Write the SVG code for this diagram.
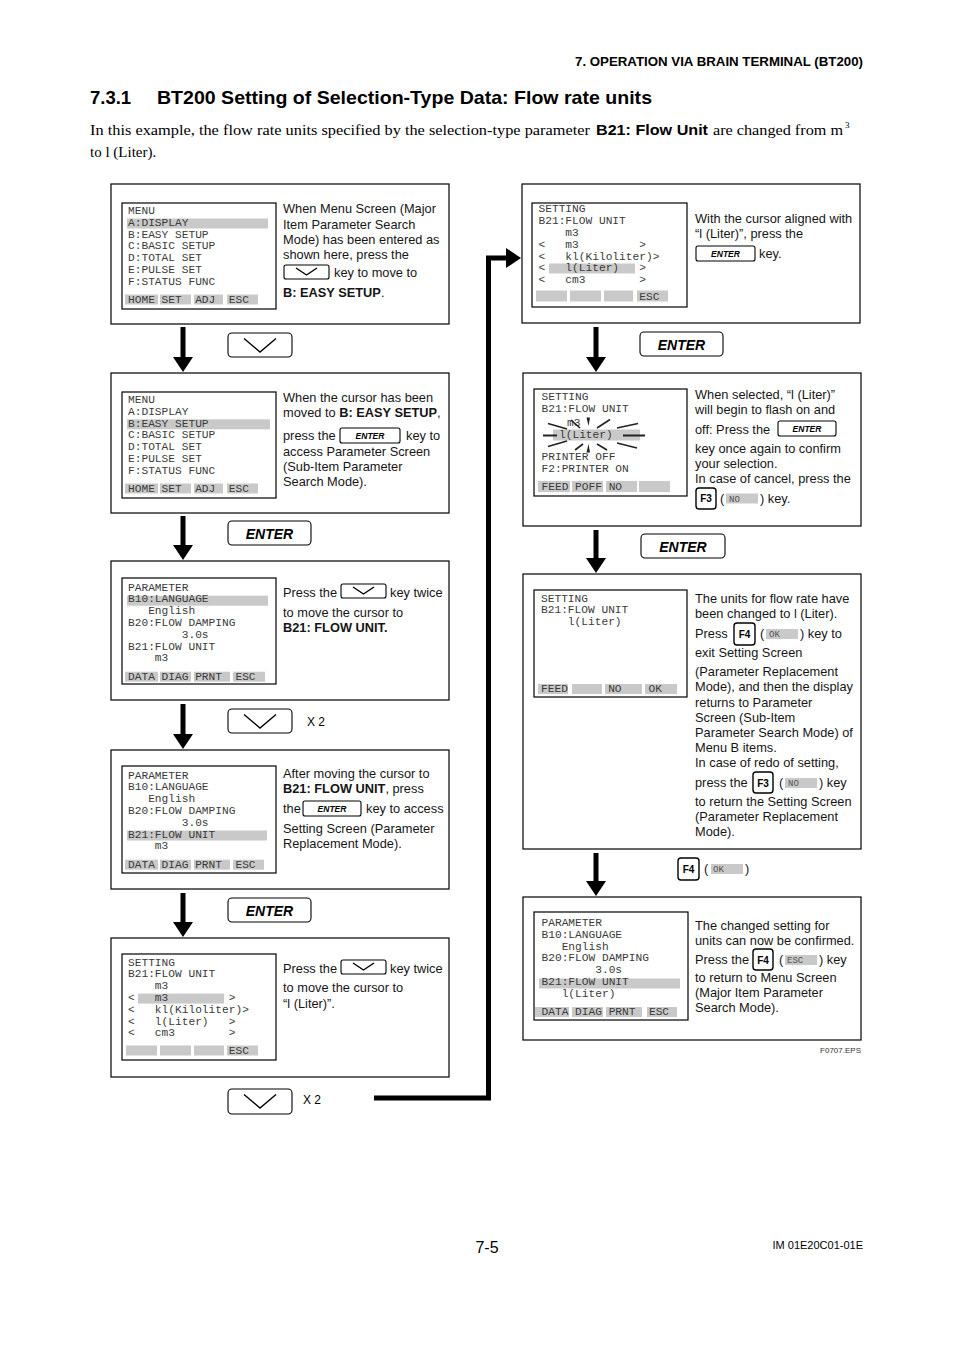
<svg xmlns="http://www.w3.org/2000/svg" width="954" height="1351" viewBox="0 0 954 1351">
<style>
.box{fill:none;stroke:#000;stroke-width:1.2}
.scr{fill:#fff;stroke:#000;stroke-width:1.2}
.hl{fill:#c9c9c9}
.mono{font-family:"Liberation Mono","DejaVu Sans Mono",monospace;font-size:11.2px;fill:#3a3a3a;white-space:pre}
.gk{font-family:"Liberation Mono",monospace;font-size:9px;fill:#555;white-space:pre}
.d{font-family:"Liberation Sans",Arial,sans-serif;font-size:12.8px;fill:#151515}
.b{font-weight:bold}
.key{fill:#fff;stroke:#000;stroke-width:1.1}
.chev{fill:none;stroke:#000;stroke-width:1.4}
.ent{font-family:"Liberation Sans",Arial,sans-serif;font-weight:bold;font-style:italic;fill:#000;text-anchor:middle}
.fk{fill:#fff;stroke:#000;stroke-width:1.4}
.fkt{font-family:"Liberation Sans",Arial,sans-serif;font-weight:bold;font-size:10px;text-anchor:middle;fill:#000}
.arr{fill:none;stroke:#000;stroke-width:5;marker-end:url(#ah)}
.ray{stroke:#222;stroke-width:1.6;fill:none}
</style>
<defs>
<marker id="ah" markerUnits="userSpaceOnUse" markerWidth="15" markerHeight="20" refX="3" refY="10" orient="auto">
<path d="M0,0 L15,10 L0,20 Z" fill="#000"/>
</marker>
</defs>
<rect width="954" height="1351" fill="#fff"/>

<!-- header -->
<text x="575" y="66" font-family="Liberation Sans, Arial, sans-serif" font-size="12" font-weight="bold" textLength="288" lengthAdjust="spacingAndGlyphs">7. OPERATION VIA BRAIN TERMINAL (BT200)</text>
<text x="90" y="104" font-family="Liberation Sans, Arial, sans-serif" font-size="18.5" font-weight="bold">7.3.1</text>
<text x="157" y="104" font-family="Liberation Sans, Arial, sans-serif" font-size="18.5" font-weight="bold" textLength="495" lengthAdjust="spacingAndGlyphs">BT200 Setting of Selection-Type Data: Flow rate units</text>
<text x="90" y="135" font-family="Liberation Serif, Times New Roman, serif" font-size="15" textLength="500" lengthAdjust="spacingAndGlyphs">In this example, the flow rate units specified by the selection-type parameter</text>
<text x="596" y="135" font-family="Liberation Sans, Arial, sans-serif" font-size="15" font-weight="bold" textLength="112" lengthAdjust="spacingAndGlyphs">B21: Flow Unit</text>
<text x="713" y="135" font-family="Liberation Serif, Times New Roman, serif" font-size="15" textLength="130" lengthAdjust="spacingAndGlyphs">are changed from m</text>
<text x="845" y="128" font-family="Liberation Serif, Times New Roman, serif" font-size="9">3</text>
<text x="90" y="157" font-family="Liberation Serif, Times New Roman, serif" font-size="15">to l (Liter).</text>

<!-- connectors -->
<g id="connectors">
<path class="arr" d="M183,327 V360"/>
<path class="arr" d="M183,516 V548"/>
<path class="arr" d="M183,704 V737"/>
<path class="arr" d="M183,893 V925"/>
<path class="arr" d="M596,327 V360"/>
<path class="arr" d="M596,530 V561"/>
<path class="arr" d="M596,853 V884"/>
<path class="arr" d="M374,1098 H488.5 V258 H509" stroke-linejoin="miter"/>
</g>

<!-- keys between boxes -->
<g id="key-down-1"><rect class="key" x="228" y="333" width="64" height="24" rx="4"/><polyline class="chev" points="244,338.5 260,352 276,338.5"/></g>
<g id="key-enter-1"><rect class="key" x="228" y="521" width="83" height="24" rx="4"/><text class="ent" x="269.5" y="538.5" font-size="14">ENTER</text></g>
<g id="key-down-2"><rect class="key" x="228" y="709" width="64" height="24" rx="4"/><polyline class="chev" points="244,714.5 260,728 276,714.5"/><text x="307" y="725.5" font-family="Liberation Sans, Arial, sans-serif" font-size="12">X 2</text></g>
<g id="key-enter-2"><rect class="key" x="228" y="898" width="83" height="24" rx="4"/><text class="ent" x="269.5" y="915.5" font-size="14">ENTER</text></g>
<g id="key-down-3"><rect class="key" x="228" y="1089" width="64" height="25" rx="4"/><polyline class="chev" points="244,1094.5 260,1108 276,1094.5"/><text x="303" y="1103.5" font-family="Liberation Sans, Arial, sans-serif" font-size="12">X 2</text></g>
<g id="key-enter-3"><rect class="key" x="640" y="332" width="83" height="24" rx="4"/><text class="ent" x="681.5" y="349.5" font-size="14">ENTER</text></g>
<g id="key-enter-4"><rect class="key" x="641" y="534" width="84" height="24" rx="4"/><text class="ent" x="683" y="551.5" font-size="14">ENTER</text></g>
<g id="key-f4-ok"><rect class="fk" x="678" y="858" width="21" height="22" rx="3"/><text class="fkt" x="688.5" y="873">F4</text><text class="d" x="704" y="873">(</text><rect class="hl" x="711" y="864" width="32" height="10"/><text class="gk" x="713" y="872">OK</text><text class="d" x="745" y="873">)</text></g>

<!-- Box 1 -->
<g id="n1">
<rect class="box" x="111" y="184" width="338" height="140"/>
<rect class="scr" x="122" y="203" width="154" height="106"/>
<rect class="hl" x="127" y="218.5" width="141" height="10"/>
<text class="mono" xml:space="preserve" x="128" y="214">MENU</text>
<text class="mono" xml:space="preserve" x="128" y="225.8">A:DISPLAY</text>
<text class="mono" xml:space="preserve" x="128" y="237.6">B:EASY SETUP</text>
<text class="mono" xml:space="preserve" x="128" y="249.4">C:BASIC SETUP</text>
<text class="mono" xml:space="preserve" x="128" y="261.2">D:TOTAL SET</text>
<text class="mono" xml:space="preserve" x="128" y="273">E:PULSE SET</text>
<text class="mono" xml:space="preserve" x="128" y="284.8">F:STATUS FUNC</text>
<rect class="hl" x="125" y="294.5" width="33" height="10"/><rect class="hl" x="160" y="294.5" width="31" height="10"/><rect class="hl" x="194" y="294.5" width="29" height="10"/><rect class="hl" x="227" y="294.5" width="31" height="10"/>
<text class="mono" xml:space="preserve" x="128" y="302.5">HOME SET  ADJ  ESC</text>
<text class="d" x="283" y="213">When Menu Screen (Major</text>
<text class="d" x="283" y="229">Item Parameter Search</text>
<text class="d" x="283" y="244">Mode) has been entered as</text>
<text class="d" x="283" y="259">shown here, press the</text>
<rect class="key" x="284" y="265" width="45" height="14" rx="2"/><polyline class="chev" points="296,268 306.5,275 317,268"/>
<text class="d" x="334" y="277">key to move to</text>
<text class="d" x="283" y="297"><tspan class="b">B: EASY SETUP</tspan>.</text>
</g>

<!-- Box 2 -->
<g id="n2">
<rect class="box" x="111" y="373" width="338" height="140"/>
<rect class="scr" x="122" y="392" width="154" height="106"/>
<rect class="hl" x="127" y="419.3" width="143" height="10"/>
<text class="mono" xml:space="preserve" x="128" y="403">MENU</text>
<text class="mono" xml:space="preserve" x="128" y="414.8">A:DISPLAY</text>
<text class="mono" xml:space="preserve" x="128" y="426.6">B:EASY SETUP</text>
<text class="mono" xml:space="preserve" x="128" y="438.4">C:BASIC SETUP</text>
<text class="mono" xml:space="preserve" x="128" y="450.2">D:TOTAL SET</text>
<text class="mono" xml:space="preserve" x="128" y="462">E:PULSE SET</text>
<text class="mono" xml:space="preserve" x="128" y="473.8">F:STATUS FUNC</text>
<rect class="hl" x="125" y="483.5" width="33" height="10"/><rect class="hl" x="160" y="483.5" width="31" height="10"/><rect class="hl" x="194" y="483.5" width="29" height="10"/><rect class="hl" x="227" y="483.5" width="31" height="10"/>
<text class="mono" xml:space="preserve" x="128" y="491.5">HOME SET  ADJ  ESC</text>
<text class="d" x="283" y="402">When the cursor has been</text>
<text class="d" x="283" y="417">moved to <tspan class="b">B: EASY SETUP</tspan>,</text>
<text class="d" x="283" y="440">press the</text>
<rect class="key" x="340" y="428" width="60" height="15" rx="2"/><text class="ent" x="370" y="438.5" font-size="8.5">ENTER</text>
<text class="d" x="406" y="440">key to</text>
<text class="d" x="283" y="456">access Parameter Screen</text>
<text class="d" x="283" y="470.5">(Sub-Item Parameter</text>
<text class="d" x="283" y="485.5">Search Mode).</text>
</g>

<!-- Box 3 -->
<g id="n3">
<rect class="box" x="111" y="561" width="338" height="139"/>
<rect class="scr" x="122" y="578" width="154" height="106"/>
<rect class="hl" x="127" y="595.7" width="141" height="10"/>
<text class="mono" xml:space="preserve" x="128" y="590.5">PARAMETER</text>
<text class="mono" xml:space="preserve" x="128" y="602.3">B10:LANGUAGE</text>
<text class="mono" xml:space="preserve" x="128" y="614.1">   English</text>
<text class="mono" xml:space="preserve" x="128" y="625.9">B20:FLOW DAMPING</text>
<text class="mono" xml:space="preserve" x="128" y="637.7">        3.0s</text>
<text class="mono" xml:space="preserve" x="128" y="649.5">B21:FLOW UNIT</text>
<text class="mono" xml:space="preserve" x="128" y="661.3">    m3</text>
<rect class="hl" x="125" y="671.7" width="33" height="10"/><rect class="hl" x="160" y="671.7" width="31" height="10"/><rect class="hl" x="194" y="671.7" width="36" height="10"/><rect class="hl" x="233" y="671.7" width="32" height="10"/>
<text class="mono" xml:space="preserve" x="128" y="679.7">DATA DIAG PRNT  ESC</text>
<text class="d" x="283" y="597">Press the</text>
<rect class="key" x="341" y="584" width="45" height="14" rx="2"/><polyline class="chev" points="353,587 363.5,594 374,587"/>
<text class="d" x="390" y="597">key twice</text>
<text class="d" x="283" y="617">to move the cursor to</text>
<text class="d b" x="283" y="632">B21: FLOW UNIT.</text>
</g>

<!-- Box 4 -->
<g id="n4">
<rect class="box" x="111" y="750" width="338" height="139"/>
<rect class="scr" x="122" y="766" width="154" height="107"/>
<rect class="hl" x="127" y="830.5" width="140" height="10"/>
<text class="mono" xml:space="preserve" x="128" y="778.5">PARAMETER</text>
<text class="mono" xml:space="preserve" x="128" y="790.3">B10:LANGUAGE</text>
<text class="mono" xml:space="preserve" x="128" y="802.1">   English</text>
<text class="mono" xml:space="preserve" x="128" y="813.9">B20:FLOW DAMPING</text>
<text class="mono" xml:space="preserve" x="128" y="825.7">        3.0s</text>
<text class="mono" xml:space="preserve" x="128" y="837.5">B21:FLOW UNIT</text>
<text class="mono" xml:space="preserve" x="128" y="849.3">    m3</text>
<rect class="hl" x="125" y="859.7" width="33" height="10"/><rect class="hl" x="160" y="859.7" width="31" height="10"/><rect class="hl" x="194" y="859.7" width="36" height="10"/><rect class="hl" x="233" y="859.7" width="31" height="10"/>
<text class="mono" xml:space="preserve" x="128" y="867.7">DATA DIAG PRNT  ESC</text>
<text class="d" x="283" y="778">After moving the cursor to</text>
<text class="d" x="283" y="793"><tspan class="b">B21: FLOW UNIT</tspan>, press</text>
<text class="d" x="283" y="813">the</text>
<rect class="key" x="303" y="801" width="58" height="15" rx="2"/><text class="ent" x="332" y="811.5" font-size="8.5">ENTER</text>
<text class="d" x="366" y="813">key to access</text>
<text class="d" x="283" y="833">Setting Screen (Parameter</text>
<text class="d" x="283" y="848">Replacement Mode).</text>
</g>

<!-- Box 5 -->
<g id="n5">
<rect class="box" x="111" y="938" width="338" height="139"/>
<rect class="scr" x="122" y="954" width="154" height="106"/>
<rect class="hl" x="138" y="993.6" width="86" height="10"/>
<text class="mono" xml:space="preserve" x="128" y="965.5">SETTING</text>
<text class="mono" xml:space="preserve" x="128" y="977.3">B21:FLOW UNIT</text>
<text class="mono" xml:space="preserve" x="128" y="989.1">    m3</text>
<text class="mono" xml:space="preserve" x="128" y="1000.9">&lt;   m3         &gt;</text>
<text class="mono" xml:space="preserve" x="128" y="1012.7">&lt;   kl(Kiloliter)&gt;</text>
<text class="mono" xml:space="preserve" x="128" y="1024.5">&lt;   l(Liter)   &gt;</text>
<text class="mono" xml:space="preserve" x="128" y="1036.3">&lt;   cm3        &gt;</text>
<rect class="hl" x="126" y="1045.5" width="31" height="10"/><rect class="hl" x="160" y="1045.5" width="31" height="10"/><rect class="hl" x="194" y="1045.5" width="30" height="10"/><rect class="hl" x="227" y="1045.5" width="31" height="10"/>
<text class="mono" xml:space="preserve" x="128" y="1053.5">               ESC</text>
<text class="d" x="283" y="973">Press the</text>
<rect class="key" x="341" y="960" width="45" height="14" rx="2"/><polyline class="chev" points="353,963 363.5,970 374,963"/>
<text class="d" x="390" y="973">key twice</text>
<text class="d" x="283" y="992">to move the cursor to</text>
<text class="d" x="283" y="1008">“l (Liter)”.</text>
</g>

<!-- Box 6 -->
<g id="n6">
<rect class="box" x="522" y="184" width="338" height="139"/>
<rect class="scr" x="532" y="203" width="155" height="104"/>
<rect class="hl" x="549" y="263.5" width="86" height="10"/>
<text class="mono" xml:space="preserve" x="538.5" y="212.3">SETTING</text>
<text class="mono" xml:space="preserve" x="538.5" y="224.1">B21:FLOW UNIT</text>
<text class="mono" xml:space="preserve" x="538.5" y="235.9">    m3</text>
<text class="mono" xml:space="preserve" x="538.5" y="247.7">&lt;   m3         &gt;</text>
<text class="mono" xml:space="preserve" x="538.5" y="259.5">&lt;   kl(Kiloliter)&gt;</text>
<text class="mono" xml:space="preserve" x="538.5" y="271.3">&lt;   l(Liter)   &gt;</text>
<text class="mono" xml:space="preserve" x="538.5" y="283.1">&lt;   cm3        &gt;</text>
<rect class="hl" x="536" y="290.5" width="31" height="11"/><rect class="hl" x="570" y="290.5" width="31" height="11"/><rect class="hl" x="604" y="290.5" width="29" height="11"/><rect class="hl" x="637" y="290.5" width="31" height="11"/>
<text class="mono" xml:space="preserve" x="538.5" y="299.5">               ESC</text>
<text class="d" x="695" y="223">With the cursor aligned with</text>
<text class="d" x="695" y="238">“l (Liter)”, press the</text>
<rect class="key" x="696" y="246" width="59" height="15" rx="2"/><text class="ent" x="725.5" y="256.5" font-size="8.5">ENTER</text>
<text class="d" x="759" y="258">key.</text>
</g>

<!-- Box 7 -->
<g id="n7">
<rect class="box" x="523" y="373" width="338" height="153"/>
<rect class="scr" x="534" y="389" width="153" height="107"/>
<text class="mono" xml:space="preserve" x="541.5" y="400.3">SETTING</text>
<text class="mono" xml:space="preserve" x="541.5" y="412.3">B21:FLOW UNIT</text>
<text class="mono" xml:space="preserve" x="567" y="426" font-size="10">m3</text>
<rect class="hl" x="553" y="429.5" width="87" height="11"/>
<text class="mono" xml:space="preserve" x="559" y="437.8">l(Liter)</text>
<g class="ray">
<line x1="548" y1="423.5" x2="567" y2="429"/>
<line x1="571" y1="420" x2="580" y2="428"/>
<path d="M586.5,417.5 L590,417.5 L588.5,426 Z" fill="#222" stroke="none"/>
<line x1="597" y1="428" x2="610" y2="419.5"/>
<line x1="617" y1="428" x2="638" y2="423.5"/>
<line x1="543" y1="435.5" x2="557" y2="435.5" stroke-width="2"/>
<line x1="623" y1="435.5" x2="645" y2="435.5" stroke-width="2"/>
<line x1="548" y1="446.5" x2="567" y2="441"/>
<line x1="575" y1="450" x2="583" y2="444"/>
<path d="M586.5,452.5 L590,452.5 L588.5,444 Z" fill="#222" stroke="none"/>
<line x1="597" y1="444" x2="607" y2="450"/>
<line x1="617" y1="443" x2="637" y2="448"/>
</g>
<text class="mono" xml:space="preserve" x="541.5" y="460.3">PRINTER OFF</text>
<text class="mono" xml:space="preserve" x="541.5" y="472.3">F2:PRINTER ON</text>
<rect class="hl" x="538" y="481" width="32" height="11"/><rect class="hl" x="572" y="481" width="31" height="11"/><rect class="hl" x="606" y="481" width="31" height="11"/><rect class="hl" x="639" y="481" width="31" height="11"/>
<text class="mono" xml:space="preserve" x="541.5" y="489.5">FEED POFF NO</text>
<text class="d" x="695" y="398.5">When selected, “l (Liter)”</text>
<text class="d" x="695" y="414">will begin to flash on and</text>
<text class="d" x="695" y="433.5">off: Press the</text>
<rect class="key" x="778" y="421" width="58" height="15" rx="2"/><text class="ent" x="807" y="431.5" font-size="8.5">ENTER</text>
<text class="d" x="695" y="452.5">key once again to confirm</text>
<text class="d" x="695" y="467.5">your selection.</text>
<text class="d" x="695" y="482.5">In case of cancel, press the</text>
<rect class="fk" x="696" y="488" width="20" height="21" rx="3"/><text class="fkt" x="706" y="502">F3</text>
<text class="d" x="720" y="502.5">(</text>
<rect class="hl" x="726" y="493.5" width="32" height="10"/><text class="gk" x="729" y="501.5">NO</text>
<text class="d" x="760" y="502.5">) key.</text>
</g>

<!-- Box 8 -->
<g id="n8">
<rect class="box" x="523" y="574" width="338" height="275"/>
<rect class="scr" x="534" y="590" width="153" height="107"/>
<text class="mono" xml:space="preserve" x="541" y="601.5">SETTING</text>
<text class="mono" xml:space="preserve" x="541" y="613.3">B21:FLOW UNIT</text>
<text class="mono" xml:space="preserve" x="541" y="625.1">    l(Liter)</text>
<rect class="hl" x="538" y="684" width="30" height="10"/><rect class="hl" x="572" y="684" width="30" height="10"/><rect class="hl" x="605" y="684" width="37" height="10"/><rect class="hl" x="645" y="684" width="32" height="10"/>
<text class="mono" xml:space="preserve" x="541" y="692">FEED      NO    OK</text>
<text class="d" x="695" y="602.5">The units for flow rate have</text>
<text class="d" x="695" y="617.5">been changed to l (Liter).</text>
<text class="d" x="695" y="637.5">Press</text>
<rect class="fk" x="734" y="623" width="21" height="22" rx="3"/><text class="fkt" x="744.5" y="637.5">F4</text>
<text class="d" x="760" y="637.5">(</text>
<rect class="hl" x="766" y="629" width="32" height="10"/><text class="gk" x="769" y="637">OK</text>
<text class="d" x="800" y="637.5">) key to</text>
<text class="d" x="695" y="656.5">exit Setting Screen</text>
<text class="d" x="695" y="675.5">(Parameter Replacement</text>
<text class="d" x="695" y="690.5">Mode), and then the display</text>
<text class="d" x="695" y="706.5">returns to Parameter</text>
<text class="d" x="695" y="721.5">Screen (Sub-Item</text>
<text class="d" x="695" y="736.5">Parameter Search Mode) of</text>
<text class="d" x="695" y="751.5">Menu B items.</text>
<text class="d" x="695" y="766.5">In case of redo of setting,</text>
<text class="d" x="695" y="786.5">press the</text>
<rect class="fk" x="753" y="772" width="20" height="21" rx="3"/><text class="fkt" x="763" y="786.5">F3</text>
<text class="d" x="779" y="786.5">(</text>
<rect class="hl" x="785" y="778" width="32" height="10"/><text class="gk" x="788" y="786">NO</text>
<text class="d" x="819" y="786.5">) key</text>
<text class="d" x="695" y="805.5">to return the Setting Screen</text>
<text class="d" x="695" y="820.5">(Parameter Replacement</text>
<text class="d" x="695" y="835.5">Mode).</text>
</g>

<!-- Box 9 -->
<g id="n9">
<rect class="box" x="523" y="897" width="338" height="143"/>
<rect class="scr" x="534" y="912" width="154" height="108"/>
<rect class="hl" x="539" y="978.5" width="141" height="10"/>
<text class="mono" xml:space="preserve" x="541.5" y="926">PARAMETER</text>
<text class="mono" xml:space="preserve" x="541.5" y="937.8">B10:LANGUAGE</text>
<text class="mono" xml:space="preserve" x="541.5" y="949.6">   English</text>
<text class="mono" xml:space="preserve" x="541.5" y="961.4">B20:FLOW DAMPING</text>
<text class="mono" xml:space="preserve" x="541.5" y="973.2">        3.0s</text>
<text class="mono" xml:space="preserve" x="541.5" y="985">B21:FLOW UNIT</text>
<text class="mono" xml:space="preserve" x="541.5" y="996.8">   l(Liter)</text>
<rect class="hl" x="535" y="1007" width="34" height="10"/><rect class="hl" x="572" y="1007" width="31" height="10"/><rect class="hl" x="606" y="1007" width="36" height="10"/><rect class="hl" x="647" y="1007" width="30" height="10"/>
<text class="mono" xml:space="preserve" x="541.5" y="1014.8">DATA DIAG PRNT  ESC</text>
<text class="d" x="695" y="929.5">The changed setting for</text>
<text class="d" x="695" y="944.5">units can now be confirmed.</text>
<text class="d" x="695" y="963.5">Press the</text>
<rect class="fk" x="753" y="949" width="20" height="21" rx="3"/><text class="fkt" x="763" y="963.5">F4</text>
<text class="d" x="779" y="963.5">(</text>
<rect class="hl" x="785" y="955" width="32" height="10"/><text class="gk" x="787" y="963">ESC</text>
<text class="d" x="819" y="963.5">) key</text>
<text class="d" x="695" y="982">to return to Menu Screen</text>
<text class="d" x="695" y="997">(Major Item Parameter</text>
<text class="d" x="695" y="1012">Search Mode).</text>
</g>

<text x="861" y="1053" font-family="Liberation Sans, Arial, sans-serif" font-size="8" fill="#333" text-anchor="end">F0707.EPS</text>

<!-- footer -->
<text x="487" y="1253" font-family="Liberation Sans, Arial, sans-serif" font-size="16" text-anchor="middle">7-5</text>
<text x="863" y="1249" font-family="Liberation Sans, Arial, sans-serif" font-size="11" text-anchor="end">IM 01E20C01-01E</text>
</svg>
